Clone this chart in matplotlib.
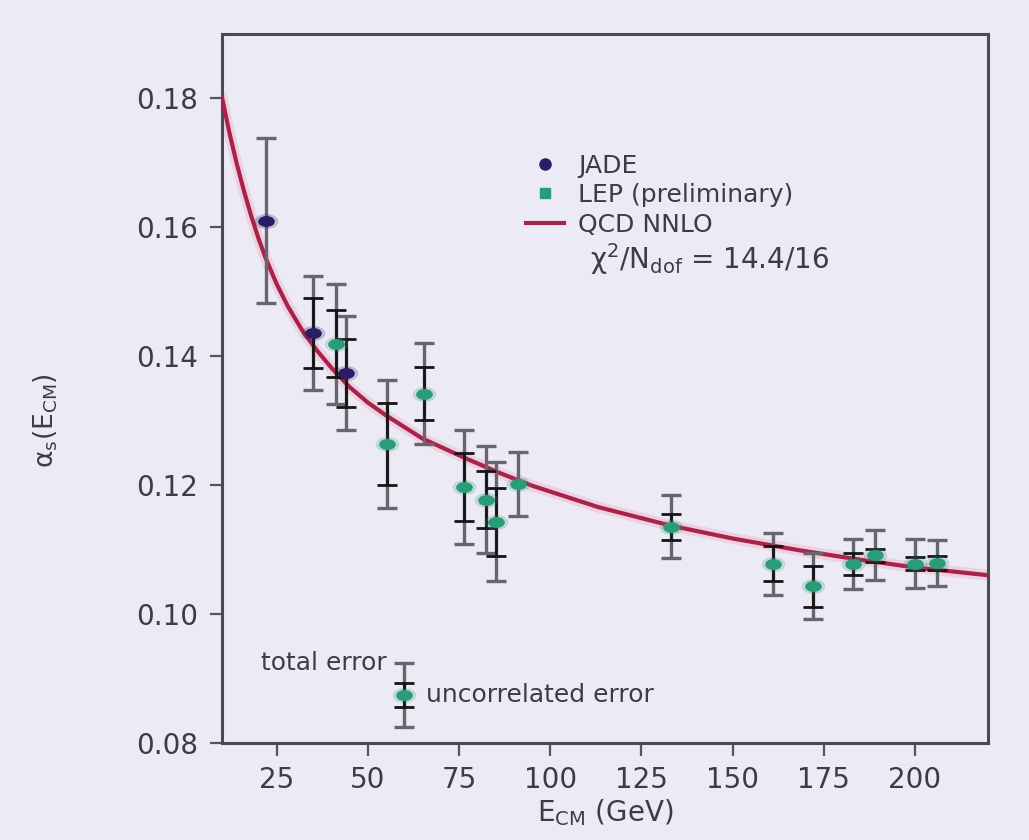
import numpy as np
import matplotlib.pyplot as plt
from matplotlib.path import Path
from matplotlib.lines import Line2D

# --- Data ---
jade_e = [22, 35, 44]
jade_a = [0.1610, 0.1436, 0.1374]
jade_tot = [0.0128, 0.0089, 0.0089]
jade_unc = [0.0, 0.0054, 0.0053]

lep_e = [41.4, 55.3, 65.4, 76.3, 82.3, 85.1, 91.2, 133, 161, 172, 183, 189, 200, 206]
lep_a = [0.1419, 0.1264, 0.1342, 0.1197, 0.1177, 0.1143, 0.1202,
         0.1135, 0.1078, 0.1043, 0.1077, 0.1091, 0.1078, 0.1079]
lep_tot = [0.0093, 0.0099, 0.0079, 0.0088, 0.0083, 0.0092, 0.0050,
           0.0049, 0.0048, 0.0051, 0.0039, 0.0039, 0.0038, 0.0036]
lep_unc = [0.0052, 0.0064, 0.0041, 0.0053, 0.0044, 0.0053, 0.0,
           0.0020, 0.0027, 0.0032, 0.0017, 0.0010, 0.0010, 0.0011]

qcd_e = [10, 12, 14, 16, 18, 20, 22, 25, 28, 32, 36, 40, 45, 50, 55, 65,
         77, 86, 95, 113, 133, 150, 168, 185, 200, 220]
qcd_a = [0.1802, 0.1748, 0.1700, 0.1657, 0.1618, 0.1583, 0.1552, 0.1512,
         0.1478, 0.1440, 0.1409, 0.1382, 0.1352, 0.1328, 0.1308, 0.1272,
         0.1241, 0.1219, 0.1199, 0.1166, 0.1137, 0.1117, 0.1099, 0.1084,
         0.1072, 0.1060]

sample_e = [60]
sample_a = [0.0874]
sample_tot = [0.0049]
sample_unc = [0.0019]

xticks = [25, 50, 75, 100, 125, 150, 175, 200]
yticks = [0.08, 0.10, 0.12, 0.14, 0.16, 0.18]

# --- Style ---
plt.rcParams["mathtext.default"] = "regular"
bg = "#ecebf5"
txt = "#3c3c44"
jade_col = "#2a1d66"
lep_col = "#2a9c78"
qcd_col = "#a8234a"
tot_col = "#66666e"
unc_col = "#151515"

# wide ellipse marker like the reference dots
circ = Path.unit_circle()
ellipse = Path(circ.vertices * np.array([1.6, 1.0]), circ.codes)

fig = plt.figure(figsize=(10.29, 8.4), dpi=100, facecolor=bg)
ax = fig.add_axes([0.2157, 0.1158, 0.7444, 0.8437], facecolor=bg)

# theory curve with a soft pink halo
ax.plot(qcd_e, qcd_a, color="#f2a0b8", lw=8, alpha=0.35, solid_capstyle="round", zorder=2)
ax.plot(qcd_e, qcd_a, color=qcd_col, lw=3.0, zorder=3)


def draw_points(e, a, tot, unc, col):
    e = np.asarray(e)
    a = np.asarray(a)
    tot = np.asarray(tot)
    unc = np.asarray(unc)
    ax.errorbar(e, a, yerr=tot, fmt="none", ecolor=tot_col, elinewidth=2.4,
                capsize=7, capthick=2.4, zorder=4)
    m = unc > 0
    ax.errorbar(e[m], a[m], yerr=unc[m], fmt="none", ecolor=unc_col, elinewidth=2.0,
                capsize=7, capthick=2.0, zorder=5)
    ax.plot(e, a, ls="none", marker=ellipse, ms=16, color=col, alpha=0.18, zorder=5)
    ax.plot(e, a, ls="none", marker=ellipse, ms=11, color=col, zorder=6)


draw_points(jade_e, jade_a, jade_tot, jade_unc, jade_col)
draw_points(lep_e, lep_a, lep_tot, lep_unc, lep_col)
draw_points(sample_e, sample_a, sample_tot, sample_unc, lep_col)

ax.text(55.3, 0.0924, "total error", ha="right", va="center", fontsize=18, color=txt)
ax.text(66.0, 0.0874, "uncorrelated error", ha="left", va="center", fontsize=18, color=txt)

# legend
handles = [
    Line2D([], [], ls="none", marker="o", ms=8, color=jade_col),
    Line2D([], [], ls="none", marker="s", ms=7, color=lep_col),
    Line2D([], [], color=qcd_col, lw=3.0),
]
leg = ax.legend(handles, ["JADE", "LEP (preliminary)", "QCD NNLO"],
                loc="upper left", bbox_to_anchor=(0.38, 0.849), frameon=False,
                fontsize=18, handlelength=1.55, handletextpad=0.55,
                labelspacing=0.22, borderpad=0)
for t in leg.get_texts():
    t.set_color(txt)
ax.text(111, 0.1551, r"$\chi^2/N_{dof}$ = 14.4/16", ha="left", va="center",
        fontsize=20, color=txt)

# axes
ax.set_xlim(10, 220)
ax.set_ylim(0.08, 0.19)
ax.set_xticks(xticks)
ax.set_yticks(yticks)
ax.set_yticklabels([f"{v:.2f}" for v in yticks])
ax.tick_params(axis="both", direction="out", length=9, width=1.6, colors="#55555d",
               labelsize=20, labelcolor=txt, pad=8)
for s in ax.spines.values():
    s.set_color("#4a4a55")
    s.set_linewidth(2.2)

ax.set_xlabel(r"$E_{CM}$ (GeV)", fontsize=20, color=txt, labelpad=2)
ax.set_ylabel(r"$\alpha_s(E_{CM})$", fontsize=19, color=txt)
ax.yaxis.set_label_coords(-0.212, 0.455)

fig.savefig("out.png", dpi=100, facecolor=bg)
